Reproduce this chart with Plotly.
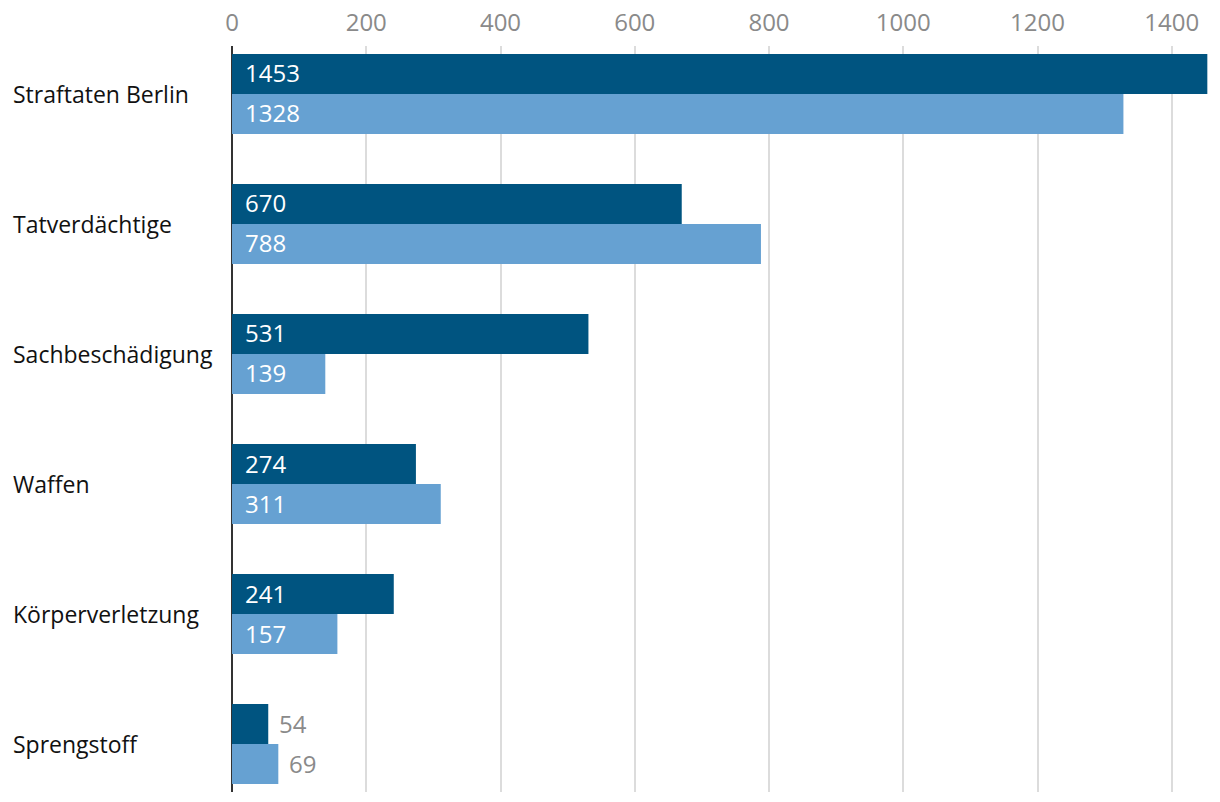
import plotly.graph_objects as go

categories = ["Straftaten Berlin", "Tatverdächtige", "Sachbeschädigung", "Waffen", "Körperverletzung", "Sprengstoff"]
series_a = [1453, 670, 531, 274, 241, 54]
series_b = [1328, 788, 139, 311, 157, 69]
x_ticks = [0, 200, 400, 600, 800, 1000, 1200, 1400]

DARK = "#005480"
LIGHT = "#66A1D2"
FONT = "Open Sans"
FS_LABEL = 23
FS_NUM = 24
INSIDE_MIN = 100  # values below are labeled outside

fig = go.Figure()
fig.add_trace(go.Bar(y=categories, x=series_a, orientation="h", marker=dict(color=DARK, line=dict(width=0)),
                     name="A", hoverinfo="x"))
fig.add_trace(go.Bar(y=categories, x=series_b, orientation="h", marker=dict(color=LIGHT, line=dict(width=0)),
                     name="B", hoverinfo="x"))

annotations = []
for i, cat in enumerate(categories):
    annotations.append(dict(x=0, xref="paper", y=cat, yref="y", text=cat, showarrow=False,
                            xanchor="left", xshift=-221, font=dict(family=FONT, size=FS_LABEL, color="#111")))
    for val, yshift in ((series_a[i], 21), (series_b[i], -19)):
        if val >= INSIDE_MIN:
            annotations.append(dict(x=0, xref="x", y=cat, yref="y", text=str(val), showarrow=False,
                                    xanchor="left", xshift=11, yshift=yshift,
                                    font=dict(family=FONT, size=FS_NUM, color="white")))
        else:
            annotations.append(dict(x=val, xref="x", y=cat, yref="y", text=str(val), showarrow=False,
                                    xanchor="left", xshift=9, yshift=yshift,
                                    font=dict(family=FONT, size=FS_NUM, color="#8a8a8a")))

fig.update_layout(
    width=1220, height=802,
    margin=dict(l=232, r=12, t=46, b=10, autoexpand=False),
    paper_bgcolor="white", plot_bgcolor="white",
    barmode="group", bargap=0.385, bargroupgap=0,
    showlegend=False,
    font=dict(family=FONT, size=FS_LABEL),
    annotations=annotations,
    xaxis=dict(side="top", range=[0, 1454], tickvals=x_ticks, ticktext=[str(t) for t in x_ticks],
               showgrid=True, gridcolor="#dcdcdc", gridwidth=2,
               zeroline=True, zerolinecolor="#333333", zerolinewidth=2,
               showline=False, ticks="", ticklabelstandoff=9, automargin=False,
               tickfont=dict(family=FONT, size=FS_NUM, color="#8a8a8a")),
    yaxis=dict(categoryorder="array", categoryarray=categories, range=[5.369, -0.369], automargin=False,
               showticklabels=False, showgrid=False, zeroline=False, showline=False, ticks=""),
)

fig.write_html("out.html", config={"displayModeBar": False},
               post_script="document.body.style.margin='0';document.body.style.overflow='hidden';")
